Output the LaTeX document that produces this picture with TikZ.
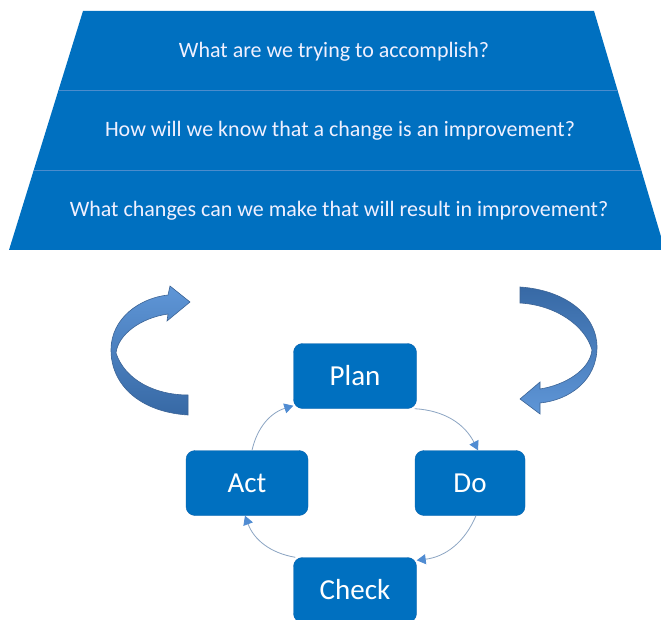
\documentclass[tikz,border=0pt]{standalone}
\usepackage{fontspec}
\setmainfont{Carlito}
\usetikzlibrary{arrows.meta}
\definecolor{stageblue}{RGB}{0,112,192}
\definecolor{stageedge}{RGB}{10,100,175}
\definecolor{rimblue}{RGB}{75,140,205}
\definecolor{linegrey}{RGB}{140,165,195}
\definecolor{tipblue}{RGB}{80,140,210}
\definecolor{arrowlight}{RGB}{95,150,215}
\definecolor{arrowdark}{RGB}{55,105,165}
\definecolor{arrowedge}{RGB}{60,100,150}
\begin{document}
\begin{tikzpicture}[x=1pt,y=-1pt,
    stage/.style={draw=stageedge, fill=stageblue, rounded corners=9pt,
        minimum width=123pt, minimum height=65pt, text=white,
        font=\fontsize{29}{32}\selectfont},
    cycleline/.style={draw=linegrey, line width=0.8pt,
        -{Triangle[length=9pt,width=10pt,color=tipblue]}},
    question/.style={text=white!94!blue, font=\fontsize{22}{26}\selectfont},
    bigarrow/.style={draw=arrowedge, line width=0.6pt}]
    \useasboundingbox (0,0) rectangle (661,620);
    \fill[white] (0,0) rectangle (661,620);

    % the three questions
    \coordinate (tl) at (83,11);    \coordinate (tr) at (594,11);
    \coordinate (ml) at (58.5,90);  \coordinate (mr) at (617.4,90);
    \coordinate (nl) at (33.7,170); \coordinate (nr) at (641,170);
    \coordinate (bl) at (9,250);    \coordinate (br) at (665,250);
    \fill[stageblue] (tl) -- (tr) -- (br) -- (bl) -- cycle;
    \draw[rimblue, line width=0.8pt] (ml) -- (mr);
    \draw[rimblue, line width=0.8pt] (nl) -- (nr);
    \node[question] (aim) at (334,52) {What are we trying to accomplish?};
    \node[question] (measure) at (340,131) {How will we know that a change is an improvement?};
    \node[question] (change) at (339,211) {What changes can we make that will result in improvement?};

    % curved arrows
    \shade[bigarrow, top color=arrowlight, bottom color=arrowdark]
        (188,415) .. controls (140,412) and (111,385) .. (111,350)
        .. controls (111,318) and (140,298) .. (168,295) -- (170,286) -- (190,302) -- (167,321) -- (168,314)
        .. controls (140,318) and (118,335) .. (116,353)
        .. controls (125,380) and (155,395) .. (188,395) -- cycle;
    \shade[bigarrow, top color=arrowdark, bottom color=arrowlight]
        (520,287) .. controls (565,290) and (597,315) .. (597,347)
        .. controls (597,380) and (570,400) .. (540,403) -- (540,414) -- (520,399) -- (540,382) -- (540,389)
        .. controls (565,385) and (590,370) .. (592,350)
        .. controls (585,325) and (555,305) .. (520,303) -- cycle;

    % PDSA cycle
    \node[stage] (plan) at (355,376) {Plan};
    \node[stage, minimum width=110pt] (do) at (470,483) {Do};
    \node[stage, minimum width=122pt] (act) at (247,483) {Act};
    \node[stage] (check) at (355,590) {Check};
    \draw[cycleline] ([xshift=-2pt]plan.south east) to[bend left=30] ([xshift=8pt]do.north);
    \draw[cycleline] ([xshift=6pt]do.south) to[bend left=30] ([yshift=-3pt]check.north east);
    \draw[cycleline] ([xshift=2pt]check.north west) to[bend left=30] ([xshift=-2pt]act.south);
    \draw[cycleline] ([xshift=5pt]act.north) to[bend left=30] ([yshift=3pt]plan.south west);
\end{tikzpicture}
\end{document}
